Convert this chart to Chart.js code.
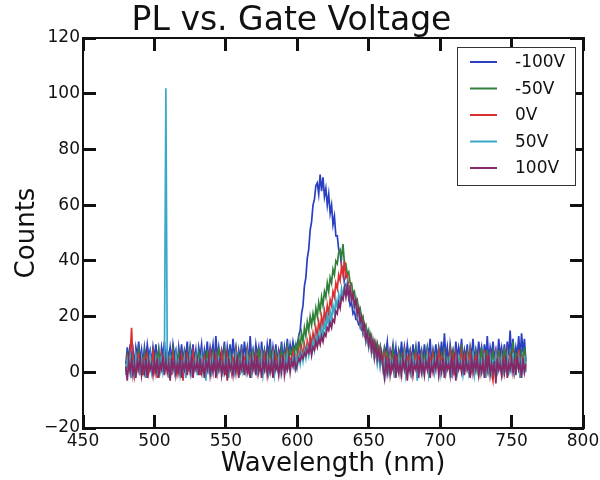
<!DOCTYPE html>
<html><head><meta charset="utf-8">
<script src="https://cdn.jsdelivr.net/npm/chart.js@4"></script>
<style>html,body{margin:0;padding:0;background:#fff}</style>
</head><body>
<canvas id="c" width="600" height="480" style="width:600px;height:480px;display:block"></canvas>
<script>
const wavelengths = [
480,481,482,483,484,485,486,487,488,489,490,491,492,493,494,495,496,497,498,499,
500,501,502,503,504,505,506,507,508,509,510,511,512,513,514,515,516,517,518,519,
520,521,522,523,524,525,526,527,528,529,530,531,532,533,534,535,536,537,538,539,
540,541,542,543,544,545,546,547,548,549,550,551,552,553,554,555,556,557,558,559,
560,561,562,563,564,565,566,567,568,569,570,571,572,573,574,575,576,577,578,579,
580,581,582,583,584,585,586,587,588,589,590,591,592,593,594,595,596,597,598,599,
600,601,602,603,604,605,606,607,608,609,610,611,612,613,614,615,616,617,618,619,
620,621,622,623,624,625,626,627,628,629,630,631,632,633,634,635,636,637,638,639,
640,641,642,643,644,645,646,647,648,649,650,651,652,653,654,655,656,657,658,659,
660,661,662,663,664,665,666,667,668,669,670,671,672,673,674,675,676,677,678,679,
680,681,682,683,684,685,686,687,688,689,690,691,692,693,694,695,696,697,698,699,
700,701,702,703,704,705,706,707,708,709,710,711,712,713,714,715,716,717,718,719,
720,721,722,723,724,725,726,727,728,729,730,731,732,733,734,735,736,737,738,739,
740,741,742,743,744,745,746,747,748,749,750,751,752,753,754,755,756,757,758,759,
760];
const countsM100 = [
3,9,4,10,5,8,2,9,6,11,4,8,3,9,5,10,6,8,3,9,
5,10,4,8,2,9,6,11,3,8,5,9,4,10,6,8,2,9,5,10,
4,8,6,11,3,9,5,10,4,8,2,9,6,10,3,8,5,11,4,9,
6,10,3,13,5,9,4,8,6,11,3,9,5,10,4,12,6,9,3,8,
5,10,4,11,6,9,3,13,5,8,4,10,6,9,3,11,5,8,4,10,
6,12,4,9,5,10,3,8,6,11,4,9,5,12,6,10,7,11,8,10,
10,13,15,21,24,31,34,41,44,51,54,60,62,67,68,64,71,65,70,63,
66,60,64,57,60,53,56,49,49,44,43,38,37,32,31,28,28,24,25,21,
22,19,19,17,17,15,15,13,14,11,12,10,11,8,10,7,10,6,9,5,
5,9,7,11,4,8,6,10,5,9,3,8,6,11,4,9,5,10,6,8,
4,10,5,9,3,11,6,8,4,10,5,9,6,12,3,8,5,10,4,9,
6,11,4,14,5,9,3,10,6,8,4,11,5,9,6,12,4,8,5,10,
3,9,6,12,4,8,5,11,6,9,3,10,5,13,4,9,6,11,5,8,
4,12,6,9,5,10,3,11,6,15,5,12,4,9,6,13,5,14,7,12,
4];
const countsM50 = [
1,6,3,7,2,5,0,6,4,8,2,5,1,7,3,6,0,5,3,7,
2,6,4,8,1,5,3,7,2,6,0,5,4,8,2,6,3,7,1,5,
3,7,2,6,4,8,1,5,3,6,2,7,4,5,0,6,3,8,2,6,
4,7,1,6,3,9,2,5,4,8,1,6,3,7,2,5,4,8,2,6,
3,7,1,5,4,8,2,6,3,7,1,6,4,9,2,5,3,7,2,6,
4,8,2,6,3,7,1,6,4,8,3,7,5,9,4,8,6,9,7,10,
7,12,9,14,11,16,13,18,15,20,17,21,18,23,20,25,22,27,24,29,
27,32,29,34,32,37,35,40,39,43,44,41,46,39,39,35,36,32,32,28,
29,25,26,22,23,19,20,16,17,13,15,11,13,9,11,8,10,6,9,5,
5,8,3,7,2,6,4,8,1,5,3,7,2,6,4,9,2,5,3,7,
1,6,4,8,2,5,3,7,0,6,4,8,2,5,3,7,1,6,4,8,
2,6,3,9,1,5,4,8,2,7,3,6,1,5,4,10,2,6,3,7,
4,8,2,6,3,7,1,5,4,9,2,6,3,8,1,5,4,7,2,6,
3,8,1,6,4,9,2,5,3,7,4,11,2,6,3,8,1,7,4,9,
3];
const counts0 = [
0,5,2,6,16,3,-1,6,2,7,1,4,-1,5,2,6,0,4,3,7,
1,5,-2,4,2,6,0,5,3,7,1,4,-1,6,2,5,0,4,3,6,
-3,4,1,6,2,5,0,7,3,5,1,4,-1,6,2,5,0,4,3,7,
1,5,2,6,0,4,3,7,1,5,-1,6,2,4,0,5,3,7,1,4,
2,6,0,5,3,7,1,4,-1,5,2,6,0,4,3,8,1,5,2,6,
0,4,3,7,1,5,2,6,0,5,3,6,2,7,3,5,4,7,3,6,
4,8,5,9,6,10,7,11,8,13,10,14,11,16,13,18,15,20,17,22,
19,24,21,26,24,29,27,32,30,35,33,38,35,40,34,35,30,31,27,27,
23,25,20,22,17,19,14,16,11,13,9,12,7,10,5,9,4,8,3,7,
2,6,0,5,3,7,1,4,-1,5,2,6,0,4,3,7,1,5,2,6,
0,4,3,7,-2,5,2,6,1,4,3,8,0,5,2,6,1,4,3,7,
1,5,2,6,0,4,3,7,1,5,-1,6,2,4,3,7,0,5,2,6,
3,7,1,4,-1,5,2,6,0,4,3,8,1,5,2,6,0,-3,3,7,
1,5,2,6,0,4,3,7,1,5,2,6,0,4,3,8,-2,6,2,5,
1];
const counts50 = [
-1,4,1,5,-2,3,0,6,2,4,-1,5,1,3,-2,4,2,6,0,3,
2,5,-1,4,1,6,0,3,102,4,-2,5,1,3,0,6,2,4,-1,3,
1,5,-2,4,2,6,0,3,1,5,-1,4,2,6,0,3,-3,5,1,4,
0,5,2,4,-1,6,1,3,0,5,2,4,-2,5,1,3,0,6,2,4,
-1,5,1,3,0,6,2,4,-2,5,1,3,0,4,2,6,-1,3,1,5,
0,4,2,6,-1,3,1,5,0,4,2,5,1,6,2,4,3,5,2,6,
2,6,3,7,4,8,5,9,6,10,7,11,8,13,10,14,11,16,13,18,
15,20,17,22,19,24,21,26,23,28,25,30,27,31,28,32,27,30,26,27,
23,25,20,22,17,19,14,16,11,14,9,12,7,10,5,8,3,7,2,6,
1,4,-1,3,0,5,2,4,-2,3,1,5,0,4,2,6,-1,3,1,4,
0,5,2,4,-3,3,1,5,0,4,2,6,-1,3,1,4,0,5,2,4,
-1,3,1,5,0,4,2,6,-2,3,1,4,0,5,2,4,-1,3,1,5,
0,4,2,6,-1,3,1,5,0,4,2,7,-2,3,1,5,0,4,2,6,
-1,4,1,5,0,3,2,6,-1,4,1,7,0,3,2,5,-2,4,1,6,
0];
const counts100 = [
2,-3,4,0,5,-1,3,-2,4,1,6,-1,3,0,5,-2,4,1,3,-1,
4,0,5,-2,3,1,6,-1,4,0,3,-3,5,1,4,-1,3,0,6,-2,
3,1,5,-1,4,0,6,-2,3,1,4,-1,5,0,3,-2,4,1,5,-1,
3,0,6,-2,4,1,5,-1,3,0,4,-3,5,1,3,-1,4,0,6,-2,
3,1,5,-1,4,0,3,-2,5,1,4,-1,6,0,3,-2,4,1,5,-1,
3,0,4,-2,5,1,3,-1,4,0,6,-1,3,1,5,0,4,2,5,1,
3,5,4,6,5,7,6,8,7,10,6,9,8,11,9,12,10,13,11,14,
13,16,15,18,16,19,18,22,21,25,23,27,26,30,27,31,27,30,26,28,
24,26,21,23,18,20,15,17,12,14,10,13,8,11,6,10,5,8,4,7,
2,-2,4,0,5,-1,3,1,6,-2,4,0,3,-1,5,1,4,-3,3,0,
5,-1,3,1,4,-2,6,0,3,-1,4,1,5,-2,3,0,4,1,6,-1,
3,0,5,-2,4,1,3,-1,6,0,4,-3,5,1,3,0,4,-1,5,1,
3,-2,6,0,4,1,5,-1,3,0,4,-2,5,1,6,-1,3,0,4,-4,
5,1,3,-1,4,0,6,-2,3,1,5,0,4,-1,6,1,3,-2,5,0,
3];
const seriesLabels = ['-100V', '-50V', '0V', '50V', '100V'];
const xTickValues = [450, 500, 550, 600, 650, 700, 750, 800];
const yTickValues = [-20, 0, 20, 40, 60, 80, 100, 120];
const titleText = 'PL vs. Gate Voltage';
const xTitle = 'Wavelength (nm)';
const yTitle = 'Counts';

const seriesColors = ['#2a3fc2', '#31803a', '#dc2e2e', '#3aa8c8', '#862866'];
const FONT = 'DejaVu Sans';
Chart.defaults.font.family = FONT;

function pts(xs, ys) { return xs.map((x, i) => ({ x: x, y: ys[i] })); }
const seriesData = [
  pts(wavelengths, countsM100),
  pts(wavelengths, countsM50),
  pts(wavelengths, counts0),
  pts(wavelengths, counts50),
  pts(wavelengths, counts100)
];

const fmt = v => String(v).replace('-', '\u2212');
const tickGrid = { drawOnChartArea: false, color: 'rgba(0,0,0,0)', drawTicks: true, tickLength: -13, tickWidth: 3, tickColor: '#111' };
const border = { display: true, color: '#111', width: 2 };

const legendPlugin = {
  id: 'boxLegend',
  afterDraw(chart) {
    const ctx = chart.ctx, ca = chart.chartArea;
    const x0 = ca.right - 126, y0 = ca.top + 9, w = 118, h = 138;
    ctx.save();
    ctx.fillStyle = '#fff';
    ctx.fillRect(x0, y0, w, h);
    ctx.strokeStyle = '#333';
    ctx.lineWidth = 1;
    ctx.strokeRect(x0 + 0.5, y0 + 0.5, w, h);
    ctx.font = '17px "' + FONT + '"';
    ctx.textBaseline = 'middle';
    ctx.textAlign = 'left';
    chart.data.datasets.forEach((ds, i) => {
      const y = y0 + 15 + i * 26.5;
      ctx.strokeStyle = ds.borderColor;
      ctx.lineWidth = 2;
      ctx.beginPath(); ctx.moveTo(x0 + 13, y); ctx.lineTo(x0 + 40, y); ctx.stroke();
      ctx.fillStyle = '#111';
      ctx.fillText(ds.label, x0 + 58, y + 1);
    });
    ctx.restore();
  }
};

new Chart(document.getElementById('c'), {
  type: 'line',
  data: {
    datasets: seriesLabels.map((lab, i) => ({
      label: lab,
      data: seriesData[i],
      borderColor: seriesColors[i],
      backgroundColor: seriesColors[i],
      borderWidth: 1.7,
      pointRadius: 0,
      tension: 0,
      fill: false,
      order: seriesLabels.length - i
    }))
  },
  options: {
    responsive: false,
    animation: false,
    layout: { padding: { left: 0, right: 17, top: 0, bottom: 0 } },
    plugins: {
      legend: { display: false },
      tooltip: { enabled: false },
      title: {
        display: true, text: titleText, color: '#111',
        font: { family: FONT, size: 33, weight: 'normal', lineHeight: 1 },
        padding: { top: 5, bottom: 0 }
      }
    },
    scales: {
      x: {
        type: 'linear', position: 'bottom', min: 450, max: 800,
        afterBuildTicks: s => { s.ticks = xTickValues.map(v => ({ value: v })); },
        afterFit: s => { s.height = 52; s.paddingLeft = 0; s.paddingRight = 0; },
        grid: tickGrid, border: border,
        ticks: { font: { size: 17 }, color: '#111', padding: 16, maxRotation: 0, callback: fmt },
        title: { display: true, text: xTitle, color: '#111', font: { size: 26 }, padding: 0 }
      },
      x2: {
        type: 'linear', position: 'top', min: 450, max: 800,
        afterBuildTicks: s => { s.ticks = xTickValues.map(v => ({ value: v })); },
        afterFit: s => { s.height = 0; s.paddingLeft = 0; s.paddingRight = 0; },
        grid: tickGrid, border: border,
        ticks: { display: false }
      },
      y: {
        type: 'linear', position: 'left', min: -20, max: 120,
        afterBuildTicks: s => { s.ticks = yTickValues.map(v => ({ value: v })); },
        afterFit: s => { s.width = 83; s.paddingTop = 0; s.paddingBottom = 0; },
        grid: tickGrid, border: border,
        ticks: { font: { size: 17 }, color: '#111', padding: 16, callback: fmt },
        title: { display: true, text: yTitle, color: '#111', font: { size: 26 }, padding: { top: 12, bottom: 0 } }
      },
      y2: {
        type: 'linear', position: 'right', min: -20, max: 120,
        afterBuildTicks: s => { s.ticks = yTickValues.map(v => ({ value: v })); },
        afterFit: s => { s.width = 0; s.paddingTop = 0; s.paddingBottom = 0; },
        grid: tickGrid, border: border,
        ticks: { display: false }
      }
    }
  },
  plugins: [legendPlugin]
});
</script>
</body></html>
